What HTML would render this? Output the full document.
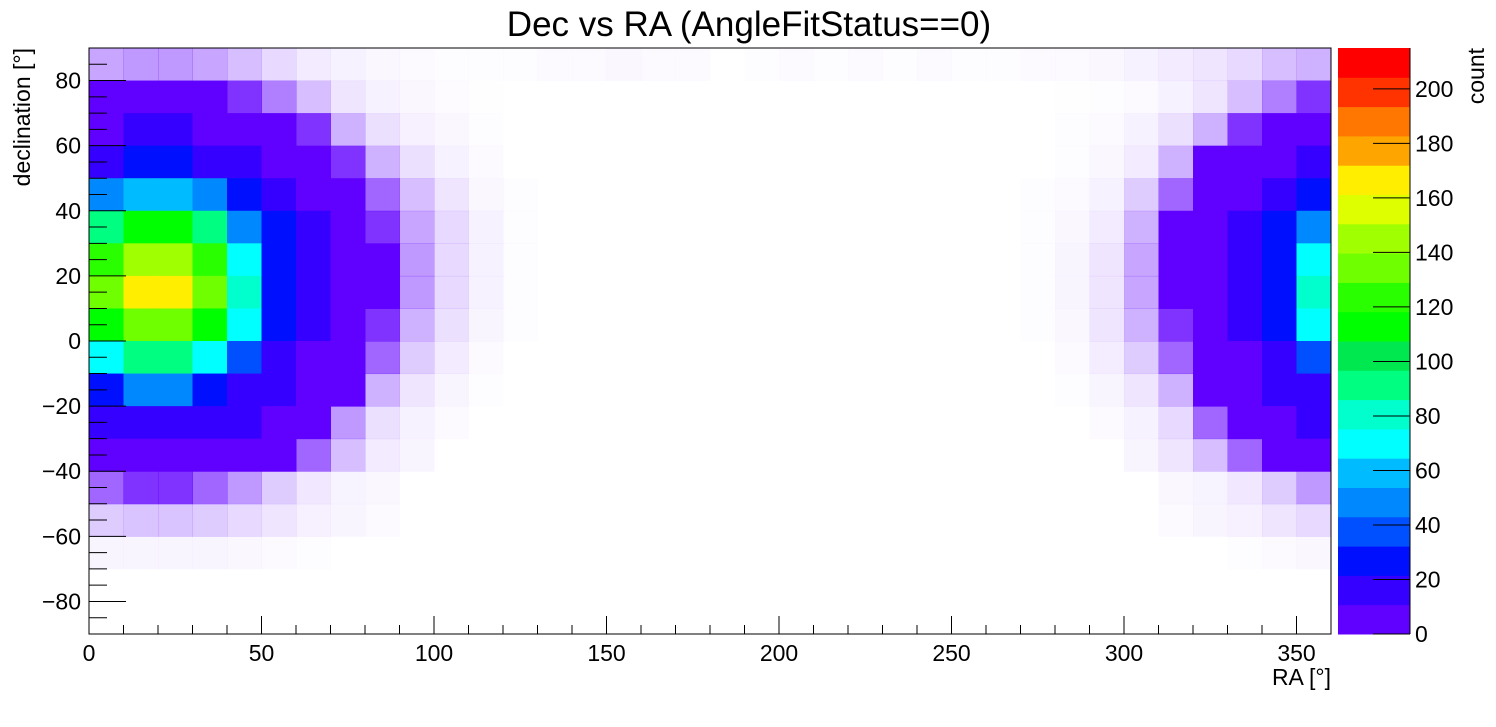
<!DOCTYPE html>
<html><head><meta charset="utf-8"><style>
html,body{margin:0;padding:0;background:#fff;}
svg text{font-family:"Liberation Sans",sans-serif;fill:#000;}
</style></head><body>
<svg id="chart" width="1496" height="722" xmlns="http://www.w3.org/2000/svg">
<rect width="1496" height="722" fill="#fff"/>
<text x="749" y="36" font-size="35" text-anchor="middle">Dec vs RA (AngleFitStatus==0)</text>
<g id="cells"></g>
<g id="axes"></g>
<g id="cbar"></g>
<text x="1331" y="685" font-size="23" text-anchor="end">RA [°]</text>
<text transform="translate(30,48) rotate(-90)" font-size="23" text-anchor="end">declination [°]</text>
<text transform="translate(1484,48) rotate(-90)" font-size="23" text-anchor="end">count</text>
</svg>
<script>
const raEdges = [0,10,20,30,40,50,60,70,80,90,100,110,120,130,140,150,160,170,180,190,200,210,220,230,240,250,260,270,280,290,300,310,320,330,340,350,360];
const decEdgesTop = [90,80,70,60,50,40,30,20,10,0,-10,-20,-30,-40,-50,-60,-70,-80];
const z = [0,0,0,0,0,0,0,0,0,0,0,0,0,0];
const counts = [
 [0.35,0.4,0.4,0.35,0.25,0.15,0.08,0.05,0.03,0.02,0.01,0.01,0.01, 0.02,0.02,0.03,0.02,0.02,0,0.01,0.02,0.01,0.02,0.01,0.02,0.01,0.01, 0.02,0.02,0.03,0.05,0.08,0.1,0.15,0.25,0.3],
 [1,1.5,1.5,1,0.8,0.5,0.25,0.1,0.05,0.03,0.015,0.005,0].concat(z,[0,0.005,0.01,0.02,0.05,0.1,0.25,0.5,0.8]),
 [10,12,12,10,4,1.5,0.8,0.3,0.12,0.06,0.03,0.01,0].concat(z,[0,0.01,0.02,0.05,0.12,0.3,0.8,1.5,4]),
 [21,25,25,21,16,8,2,0.8,0.3,0.12,0.05,0.02,0].concat(z,[0,0.01,0.03,0.08,0.3,1,2,8,16]),
 [45,63,63,45,26,17,7,2,0.6,0.25,0.1,0.03,0.01].concat(z,[0.01,0.02,0.05,0.2,0.6,2.5,7,17,26]),
 [90,115,115,90,51,23,12,5,0.8,0.35,0.15,0.05,0.01].concat(z,[0.01,0.03,0.08,0.3,1,3,12,23,51]),
 [122,150,150,122,74,29,16,5,1,0.4,0.15,0.05,0.01].concat(z,[0.01,0.04,0.1,0.35,1,3.5,16,29,74]),
 [130,165,165,130,80,30,17,5,1,0.4,0.15,0.05,0.01].concat(z,[0.01,0.04,0.1,0.35,1,3.5,17,30,80]),
 [113,138,138,113,67,27,15,4,0.8,0.3,0.12,0.04,0.01].concat(z,[0.01,0.03,0.1,0.3,0.8,3,15,27,67]),
 [72,95,95,72,38,21,10,2.5,0.6,0.2,0.08,0.02,0].concat(z,[0,0.02,0.07,0.2,0.6,2.5,10,21,38]),
 [29,43,43,29,21,14,3,1,0.3,0.1,0.04,0.01,0].concat(z,[0,0.01,0.04,0.1,0.3,1.5,3,14,21]),
 [17,20,20,17,11,3.5,1.2,0.4,0.12,0.05,0.02,0,0].concat(z,[0,0,0.02,0.05,0.15,0.6,1.2,3.5,11]),
 [8,9,9,8,5,2,0.6,0.25,0.08,0.04,0,0,0].concat(z,[0,0,0,0.04,0.1,0.25,0.6,2,5]),
 [0.6,0.8,0.8,0.6,0.4,0.2,0.09,0.045,0.03,0,0,0,0].concat(z,[0,0,0,0,0.03,0.045,0.09,0.2,0.4]),
 [0.2,0.23,0.23,0.2,0.15,0.1,0.06,0.04,0.02,0,0,0,0].concat(z,[0,0,0,0,0.02,0.04,0.06,0.1,0.15]),
 [0.04,0.04,0.04,0.04,0.03,0.02,0.01,0,0,0,0,0,0].concat(z,[0,0,0,0,0,0,0.01,0.02,0.03]),
 [0,0,0,0,0,0,0,0,0,0,0,0,0].concat(z,[0,0,0,0,0,0,0,0,0]),
 [0,0,0,0,0,0,0,0,0,0,0,0,0].concat(z,[0,0,0,0,0,0,0,0,0])
];
const xTickLabels = [0,50,100,150,200,250,300,350];
const yTickLabels = [-80,-60,-40,-20,0,20,40,60,80];
const zTickLabels = [0,20,40,60,80,100,120,140,160,180,200];
const zMax = 215;
const palette = ["#6000ff","#3500ff","#0010ff","#0050ff","#0088ff","#00bbff","#00ffff","#00ffcc","#00ff80","#00e850","#00ff00","#2aff00","#70ff00","#a0ff00","#ddff00","#ffee00","#ffa500","#ff7700","#ff3300","#ff0000"];

const X0=89,X1=1331,Y0=48,Y1=634;
const xs = v => X0+(v/360)*(X1-X0);
const ys = v => Y1-((v+90)/180)*(Y1-Y0);
const zs = v => Y1-(v/zMax)*(Y1-Y0);
const NS="http://www.w3.org/2000/svg";
function mk(tag,attrs,parent){const e=document.createElementNS(NS,tag);for(const k in attrs)e.setAttribute(k,attrs[k]);parent.appendChild(e);return e;}

const cells=document.getElementById('cells');
counts.forEach((row,i)=>{
  row.forEach((v,j)=>{
    if(v<=0) return;
    const lvl=Math.min(palette.length-1,Math.floor(v/(zMax/palette.length)));
    const x=xs(raEdges[j]), w=xs(raEdges[j+1])-x;
    const y=ys(decEdgesTop[i]), h=ys(decEdgesTop[i]-10)-y;
    const r=mk('rect',{x:x,y:y,width:w+0.5,height:h+0.5,fill:palette[lvl],'fill-opacity':Math.min(1,v)},cells);
    
    
  });
});

const ax=document.getElementById('axes');
mk('rect',{x:X0,y:Y0,width:X1-X0,height:Y1-Y0,fill:'none',stroke:'#000','stroke-width':1},ax);
for(let v=0;v<=360;v+=10){
  const major=v%50===0;
  mk('line',{x1:xs(v),x2:xs(v),y1:Y1,y2:Y1-(major?18:9),stroke:'#000'},ax);
}
xTickLabels.forEach(v=>{
  const t=mk('text',{x:xs(v),y:Y1+27,'font-size':23,'text-anchor':'middle'},ax);
  t.textContent=v;
  
  
});
for(let v=-90;v<=90;v+=5){
  const major=(v%20===0);
  mk('line',{x1:X0,x2:X0+(major?37:18),y1:ys(v),y2:ys(v),stroke:'#000'},ax);
}
yTickLabels.forEach(v=>{
  const t=mk('text',{x:X0-8,y:ys(v)+8,'font-size':23,'text-anchor':'end'},ax);
  t.textContent=v<0?'\u2212'+Math.abs(v):v;
  
  
});

const cb=document.getElementById('cbar');
const CX0=1338,CX1=1410;
palette.forEach((c,i)=>{
  const lo=i*zMax/palette.length, hi=(i+1)*zMax/palette.length;
  const r=mk('rect',{x:CX0,y:zs(hi),width:CX1-CX0,height:zs(lo)-zs(hi)+0.5,fill:c},cb);
  
  
});
mk('line',{x1:CX1,x2:CX1,y1:Y0,y2:Y1,stroke:'#000'},cb);
zTickLabels.forEach(v=>{
  mk('line',{x1:CX1-37,x2:CX1,y1:zs(v),y2:zs(v),stroke:'#000'},cb);
  const t=mk('text',{x:CX1+5,y:zs(v)+8,'font-size':23},cb);
  t.textContent=v;
  
  
});
</script>
</body></html>
